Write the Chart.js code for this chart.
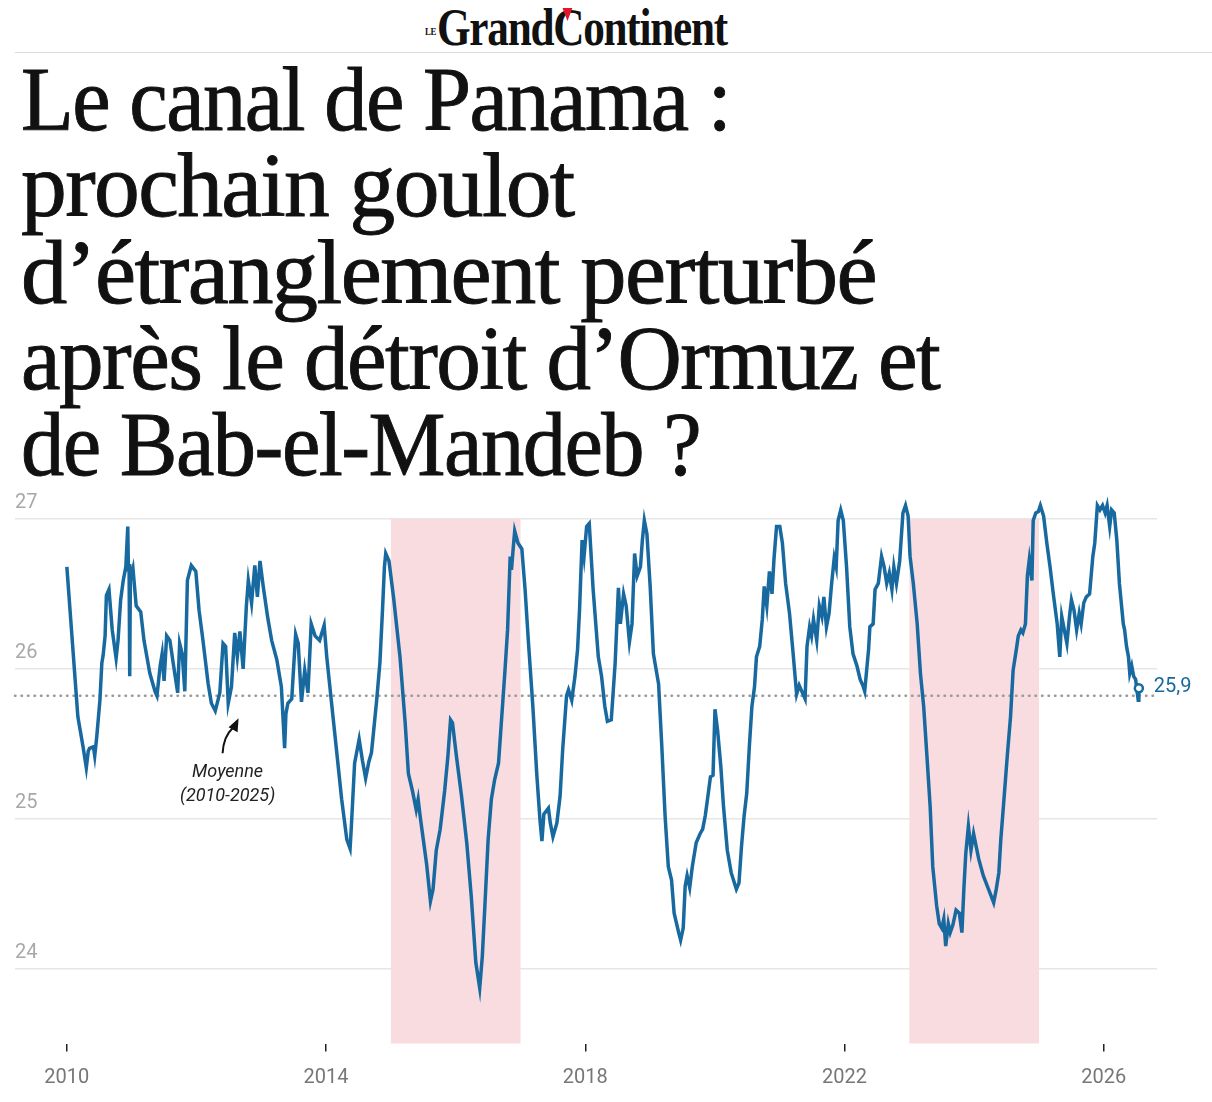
<!DOCTYPE html>
<html lang="fr">
<head>
<meta charset="utf-8">
<title>Le canal de Panama</title>
<script src="https://cdn.jsdelivr.net/npm/chart.js"></script>
<style>
  html, body { margin: 0; padding: 0; background: #fff; }
  body { width: 1212px; height: 1102px; position: relative; overflow: hidden; }
  .logo { position: absolute; top: 2px; left: 425px; font-family: "Liberation Serif", serif;
          font-weight: bold; color: #111; white-space: nowrap; }
  .logo .le { position: absolute; left: 0; top: 23px; font-size: 11px; letter-spacing: -0.5px; transform: scaleX(0.8); transform-origin: left top; }
  .logo .name { position: absolute; left: 12px; top: 0; display: inline-block; font-size: 52px; line-height: 52px;
          letter-spacing: -1.5px; transform-origin: left top; }
  .logo .c { position: relative; }
  .logo .c::after { content: ""; position: absolute; left: 11px; top: 9px; border-left: 6px solid transparent;
          border-right: 6px solid transparent; border-top: 13px solid #e1182a; }
  .rule { position: absolute; top: 52px; left: 15px; right: 0; height: 1px; background: #dcdcdc; }
  h1 { position: absolute; top: 57px; left: 21px; margin: 0; font-family: "Liberation Serif", serif;
       font-weight: normal; font-size: 91px; line-height: 86.3px; letter-spacing: -1.6px; color: #111;
       -webkit-text-stroke: 0.9px #111; white-space: nowrap; }
  h1 span { display: inline-block; transform-origin: left center; }
  .chart-box { position: absolute; left: 0; top: 480px; width: 1212px; height: 638px; }
</style>
</head>
<body>
<div class="logo"><span class="le">LE</span><span class="name" id="logoName">Grand<span class="c">C</span>ontinent</span></div>
<div class="rule"></div>
<h1 id="title"><span>Le canal de Panama :</span><br><span>prochain goulot</span><br><span>d’étranglement perturbé</span><br><span>après le détroit d’Ormuz et</span><br><span>de Bab-el-Mandeb ?</span></h1>
<div class="chart-box"><canvas id="chart"></canvas></div>
<script>
// niveau du lac Gatún (m)
const years = [
  2010.00, 2010.17, 2010.25, 2010.30, 2010.33, 2010.35, 2010.41, 2010.43, 2010.46, 2010.51,
  2010.54, 2010.56, 2010.59, 2010.61, 2010.65, 2010.70, 2010.76, 2010.79, 2010.83, 2010.87,
  2010.91, 2010.94, 2010.95, 2010.96, 2010.97, 2010.98, 2011.02, 2011.07, 2011.14, 2011.19,
  2011.28, 2011.36, 2011.39, 2011.44, 2011.47, 2011.50, 2011.54, 2011.59, 2011.64, 2011.71,
  2011.74, 2011.78, 2011.82, 2011.86, 2011.92, 2011.99, 2012.04, 2012.10, 2012.18, 2012.23,
  2012.29, 2012.36, 2012.41, 2012.45, 2012.49, 2012.54, 2012.59, 2012.63, 2012.67, 2012.72,
  2012.77, 2012.80, 2012.85, 2012.90, 2012.94, 2012.98, 2013.03, 2013.10, 2013.16, 2013.24,
  2013.31, 2013.36, 2013.38, 2013.41, 2013.47, 2013.53, 2013.57, 2013.62, 2013.67, 2013.72,
  2013.77, 2013.83, 2013.90, 2013.97, 2014.01, 2014.08, 2014.16, 2014.24, 2014.32, 2014.37,
  2014.39, 2014.44, 2014.51, 2014.56, 2014.61, 2014.66, 2014.70, 2014.73, 2014.78, 2014.83,
  2014.87, 2014.90, 2014.92, 2014.97, 2015.04, 2015.14, 2015.22, 2015.27, 2015.33, 2015.39,
  2015.42, 2015.45, 2015.50, 2015.55, 2015.61, 2015.65, 2015.70, 2015.76, 2015.83, 2015.88,
  2015.92, 2015.95, 2016.01, 2016.09, 2016.17, 2016.24, 2016.31, 2016.37, 2016.41, 2016.45,
  2016.50, 2016.55, 2016.60, 2016.66, 2016.71, 2016.76, 2016.80, 2016.84, 2016.86, 2016.89,
  2016.91, 2016.96, 2017.02, 2017.07, 2017.12, 2017.19, 2017.25, 2017.30, 2017.33, 2017.36,
  2017.43, 2017.46, 2017.50, 2017.56, 2017.61, 2017.65, 2017.71, 2017.74, 2017.79, 2017.84,
  2017.88, 2017.91, 2017.95, 2017.98, 2018.02, 2018.06, 2018.12, 2018.20, 2018.25, 2018.30,
  2018.34, 2018.40, 2018.46, 2018.51, 2018.54, 2018.59, 2018.63, 2018.68, 2018.72, 2018.76,
  2018.80, 2018.85, 2018.88, 2018.91, 2018.95, 2019.00, 2019.05, 2019.13, 2019.18, 2019.23,
  2019.28, 2019.33, 2019.37, 2019.44, 2019.47, 2019.51, 2019.54, 2019.57, 2019.61, 2019.65,
  2019.71, 2019.77, 2019.81, 2019.85, 2019.90, 2019.93, 2019.97, 2020.00, 2020.04, 2020.09,
  2020.13, 2020.19, 2020.25, 2020.33, 2020.37, 2020.41, 2020.45, 2020.49, 2020.53, 2020.57,
  2020.61, 2020.64, 2020.69, 2020.73, 2020.76, 2020.80, 2020.84, 2020.88, 2020.91, 2020.95,
  2021.00, 2021.04, 2021.09, 2021.15, 2021.20, 2021.24, 2021.26, 2021.30, 2021.34, 2021.39,
  2021.42, 2021.46, 2021.49, 2021.52, 2021.57, 2021.61, 2021.65, 2021.68, 2021.72, 2021.76,
  2021.80, 2021.84, 2021.87, 2021.90, 2021.94, 2021.98, 2022.03, 2022.08, 2022.13, 2022.19,
  2022.24, 2022.28, 2022.31, 2022.37, 2022.39, 2022.44, 2022.47, 2022.52, 2022.57, 2022.61,
  2022.65, 2022.69, 2022.73, 2022.76, 2022.80, 2022.85, 2022.90, 2022.94, 2022.98, 2023.01,
  2023.06, 2023.12, 2023.17, 2023.22, 2023.27, 2023.32, 2023.36, 2023.42, 2023.46, 2023.50,
  2023.53, 2023.56, 2023.60, 2023.63, 2023.67, 2023.72, 2023.77, 2023.81, 2023.84, 2023.87,
  2023.91, 2023.95, 2023.99, 2024.07, 2024.14, 2024.22, 2024.30, 2024.34, 2024.38, 2024.41,
  2024.45, 2024.51, 2024.56, 2024.60, 2024.65, 2024.68, 2024.72, 2024.75, 2024.79, 2024.82,
  2024.85, 2024.89, 2024.91, 2024.95, 2024.99, 2025.02, 2025.07, 2025.12, 2025.17, 2025.22,
  2025.28, 2025.32, 2025.35, 2025.39, 2025.43, 2025.47, 2025.50, 2025.54, 2025.58, 2025.62,
  2025.65, 2025.69, 2025.73, 2025.78, 2025.83, 2025.86, 2025.90, 2025.94, 2025.98, 2026.02,
  2026.05, 2026.09, 2026.12, 2026.16, 2026.20, 2026.24, 2026.30, 2026.32, 2026.35, 2026.38,
  2026.40, 2026.43, 2026.46, 2026.49, 2026.53, 2026.54
];
const levels = [
  26.68, 25.68, 25.48, 25.34, 25.45, 25.47, 25.48, 25.42, 25.54, 25.79,
  26.04, 26.09, 26.22, 26.49, 26.53, 26.26, 26.07, 26.19, 26.46, 26.59,
  26.68, 26.95, 26.65, 26.70, 25.95, 26.60, 26.67, 26.42, 26.38, 26.19,
  25.97, 25.85, 25.82, 26.02, 26.10, 25.92, 26.22, 26.19, 26.04, 25.84,
  26.17, 26.10, 25.85, 26.59, 26.69, 26.65, 26.39, 26.19, 25.90, 25.77,
  25.72, 25.84, 26.17, 26.15, 25.77, 25.88, 26.24, 26.08, 26.25, 26.00,
  26.42, 26.59, 26.44, 26.69, 26.48, 26.72, 26.55, 26.34, 26.19, 26.06,
  25.88, 25.47, 25.70, 25.77, 25.80, 26.23, 26.17, 25.78, 25.99, 25.84,
  26.30, 26.22, 26.19, 26.29, 26.08, 25.79, 25.46, 25.13, 24.86, 24.80,
  24.95, 25.37, 25.53, 25.39, 25.27, 25.38, 25.44, 25.57, 25.79, 26.04,
  26.39, 26.68, 26.77, 26.72, 26.48, 26.08, 25.64, 25.30, 25.19, 25.06,
  25.13, 25.02, 24.86, 24.70, 24.45, 24.53, 24.79, 24.93, 25.19, 25.42,
  25.66, 25.64, 25.42, 25.15, 24.84, 24.48, 24.04, 23.87, 24.08, 24.42,
  24.86, 25.13, 25.26, 25.37, 25.68, 25.99, 26.26, 26.75, 26.66, 26.82,
  26.92, 26.84, 26.80, 26.53, 26.19, 25.75, 25.30, 24.99, 24.85, 25.03,
  25.07, 24.97, 24.88, 24.97, 25.15, 25.46, 25.82, 25.86, 25.79, 25.95,
  26.13, 26.39, 26.86, 26.75, 26.95, 26.97, 26.53, 26.08, 25.95, 25.75,
  25.65, 25.66, 26.04, 26.54, 26.30, 26.50, 26.42, 26.18, 26.30, 26.77,
  26.62, 26.68, 26.86, 26.99, 26.90, 26.55, 26.10, 25.90, 25.48, 25.02,
  24.68, 24.59, 24.37, 24.24, 24.19, 24.27, 24.55, 24.62, 24.54, 24.68,
  24.84, 24.90, 24.93, 25.02, 25.18, 25.28, 25.29, 25.73, 25.59, 25.35,
  25.09, 24.79, 24.64, 24.53, 24.57, 24.82, 25.02, 25.17, 25.48, 25.75,
  25.88, 26.08, 26.15, 26.33, 26.55, 26.42, 26.65, 26.50, 26.73, 26.95,
  26.95, 26.84, 26.57, 26.37, 26.13, 25.93, 25.83, 25.89, 25.85, 25.80,
  26.15, 26.28, 26.22, 26.33, 26.19, 26.42, 26.35, 26.48, 26.28, 26.37,
  26.57, 26.74, 26.68, 26.99, 27.06, 26.99, 26.68, 26.28, 26.10, 26.02,
  25.93, 25.89, 25.85, 26.13, 26.28, 26.30, 26.53, 26.57, 26.75, 26.68,
  26.57, 26.64, 26.53, 26.68, 26.57, 26.72, 27.04, 27.09, 27.02, 26.75,
  26.57, 26.30, 25.97, 25.75, 25.42, 25.08, 24.68, 24.42, 24.30, 24.27,
  24.33, 24.15, 24.30, 24.24, 24.29, 24.39, 24.37, 24.24, 24.53, 24.77,
  24.95, 24.79, 24.90, 24.73, 24.62, 24.53, 24.44, 24.53, 24.64, 24.86,
  25.08, 25.42, 25.68, 25.99, 26.13, 26.22, 26.26, 26.24, 26.30, 26.62,
  26.73, 26.59, 26.99, 27.04, 27.05, 27.09, 27.02, 26.84, 26.68, 26.50,
  26.30, 26.08, 26.35, 26.26, 26.17, 26.35, 26.46, 26.39, 26.26, 26.37,
  26.30, 26.44, 26.48, 26.50, 26.75, 26.84, 27.09, 27.06, 27.09, 27.04,
  27.09, 26.95, 27.06, 27.04, 26.86, 26.57, 26.30, 26.26, 26.15, 26.08,
  25.97, 26.02, 25.95, 25.93, 25.79, 25.87
];
const average = 25.82;            // moyenne 2010-2025
const droughtStarts = [2015, 2023];
const droughtEnds = [2017, 2025];
const xTicks = [2010, 2014, 2018, 2022, 2026];
const yTicks = [24, 25, 26, 27];
const lastLabel = '25,9';
const noteLines = ['Moyenne', '(2010-2025)'];
const noteAt = { year: 2012.48, level: 25.31 };

const blue = '#17699f';

// ajuste la largeur du logo et des lignes du titre
const logoName = document.getElementById('logoName');
logoName.style.transform = 'scaleX(' + (290 / logoName.offsetWidth) + ')';
const titleWidths = [709, 553, 855, 918, 679];
document.querySelectorAll('#title span').forEach((s, i) => {
  s.style.transform = 'scaleX(' + (titleWidths[i] / s.offsetWidth) + ')';
});

const points = years.map((yr, i) => ({ x: yr, y: levels[i] }));
const lastIdx = points.length - 1;

const overlay = {
  id: 'overlay',
  beforeDatasetsDraw(chart) {
    const { ctx, chartArea: a, scales: { x, y } } = chart;
    ctx.save();
    // périodes de sécheresse
    ctx.fillStyle = '#f9dce0';
    const top = y.getPixelForValue(yTicks[yTicks.length - 1]);
    droughtStarts.forEach((s, i) => {
      const x0 = x.getPixelForValue(s);
      const x1 = x.getPixelForValue(droughtEnds[i]);
      ctx.fillRect(x0, top, x1 - x0, a.bottom - top);
    });
    // ligne de la moyenne
    const ya = y.getPixelForValue(average);
    ctx.strokeStyle = '#9a9a9a';
    ctx.lineWidth = 2.5;
    ctx.lineCap = 'round';
    ctx.setLineDash([0.5, 6]);
    ctx.beginPath();
    ctx.moveTo(a.left, ya);
    ctx.lineTo(a.right, ya);
    ctx.stroke();
    ctx.restore();
  },
  afterDatasetsDraw(chart) {
    const { ctx, scales: { x, y } } = chart;
    ctx.save();
    // valeur finale
    const px = x.getPixelForValue(years[lastIdx]);
    const py = y.getPixelForValue(levels[lastIdx]);
    ctx.fillStyle = blue;
    ctx.font = '20px Roboto';
    ctx.textAlign = 'left';
    ctx.textBaseline = 'middle';
    ctx.fillText(lastLabel, px + 15, py - 1);

    // annotation de la moyenne
    const nx = x.getPixelForValue(noteAt.year);
    const ny = y.getPixelForValue(noteAt.level);
    ctx.fillStyle = '#222';
    ctx.font = 'italic 18px Roboto';
    ctx.textAlign = 'center';
    noteLines.forEach((t, i) => ctx.fillText(t, nx, ny + i * 24));
    // flèche
    ctx.strokeStyle = '#111';
    ctx.lineWidth = 2;
    ctx.beginPath();
    ctx.moveTo(nx - 5, ny - 19);
    ctx.quadraticCurveTo(nx - 4, ny - 36, nx + 5, ny - 44);
    ctx.stroke();
    ctx.fillStyle = '#111';
    ctx.beginPath();
    ctx.moveTo(nx + 11, ny - 54);
    ctx.lineTo(nx + 1, ny - 45);
    ctx.lineTo(nx + 10, ny - 40);
    ctx.closePath();
    ctx.fill();
    ctx.restore();
  }
};

new Chart(document.getElementById('chart'), {
  type: 'line',
  data: {
    datasets: [{
      data: points,
      borderColor: blue,
      borderWidth: 3.5,
      tension: 0,
      pointRadius: ctx => (ctx.dataIndex === lastIdx ? 4 : 0),
      pointBackgroundColor: '#fff',
      pointBorderColor: blue,
      pointBorderWidth: 2.5,
      clip: false
    }]
  },
  options: {
    responsive: true,
    maintainAspectRatio: false,
    animation: false,
    layout: { padding: { left: 15, right: 55, top: 16.5, bottom: 14.5 } },
    plugins: { legend: { display: false }, tooltip: { enabled: false } },
    scales: {
      x: {
        type: 'linear',
        min: 2009.2,
        max: 2026.82,
        afterBuildTicks: s => { s.ticks = xTicks.map(v => ({ value: v })); },
        grid: { drawOnChartArea: false, drawTicks: true, tickLength: 8, color: '#222', lineWidth: 1.5 },
        border: { display: false },
        ticks: {
          color: '#777',
          padding: 14,
          maxRotation: 0,
          font: { family: 'Roboto', size: 20 },
          callback: v => String(v)
        }
      },
      y: {
        min: 23.5,
        max: 27.15,
        afterBuildTicks: s => { s.ticks = yTicks.map(v => ({ value: v })); },
        grid: { color: '#e6e6e6', lineWidth: 1.5, drawTicks: false },
        border: { display: false },
        ticks: {
          mirror: true,
          padding: 0,
          labelOffset: -16,
          color: '#a8a8a8',
          font: { family: 'Roboto', size: 20 },
          callback: v => String(v)
        }
      }
    }
  },
  plugins: [overlay]
});
</script>
</body>
</html>
